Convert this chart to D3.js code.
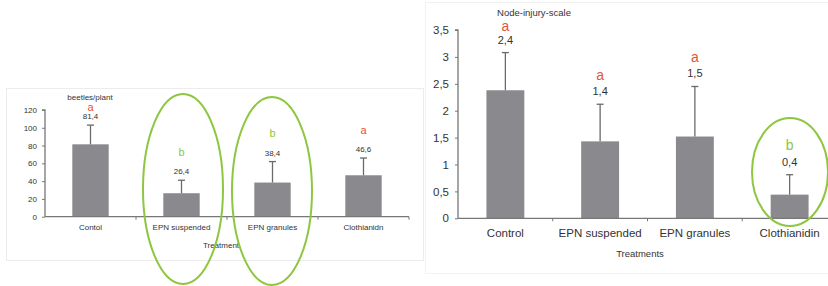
<!DOCTYPE html>
<html>
<head>
<meta charset="utf-8">
<script src="https://cdn.jsdelivr.net/npm/d3@7"></script>
<style>
  body { margin: 0; background: #fff; }
  svg { display: block; font-family: "Liberation Sans", Arial, sans-serif; }
</style>
</head>
<body>
<svg id="chart" width="828" height="286"></svg>
<script>
// left chart: beetles per plant
var beetleCats = ["Contol", "EPN suspended", "EPN granules", "Clothianidn"]
var beetleMeans = [81.4, 26.4, 38.4, 46.6]
var beetleErrTop = [103, 41, 62, 66]
var beetleLabels = ["81,4", "26,4", "38,4", "46,6"]
var beetleLetters = ["a", "b", "b", "a"]
var beetleTicks = [0, 20, 40, 60, 80, 100, 120]

// right chart: node injury scale
var injuryCats = ["Control", "EPN suspended", "EPN granules", "Clothianidin"]
var injuryMeans = [2.38, 1.43, 1.52, 0.44]
var injuryErrTop = [3.08, 2.12, 2.45, 0.81]
var injuryLabels = ["2,4", "1,4", "1,5", "0,4"]
var injuryLetters = ["a", "a", "a", "b"]
var injuryTicks = [0, 0.5, 1, 1.5, 2, 2.5, 3, 3.5]

var red = "#e2553a", green = "#8dc63f"
var barFill = "#8a8a8e", axisCol = "#777", errCol = "#6a6a6a"

var svg = d3.select("#chart")

// panel frames
svg.append("rect").attr("x", 6.5).attr("y", 88.5).attr("width", 417).attr("height", 172)
  .attr("fill", "#fff").attr("stroke", "#ececec")
svg.append("rect").attr("x", 425.5).attr("y", 2.5).attr("width", 410).attr("height", 271)
  .attr("fill", "#fff").attr("stroke", "#f2f2f2")

function drawChart(o) {
  var g = svg.append("g")
  var x = d3.scaleBand().domain(o.cats).range(o.xRange)
  var y = d3.scaleLinear().domain(o.yDomain).range(o.yRange)
  var bw = x.bandwidth() * o.barFrac

  // bars
  g.selectAll("rect.bar").data(o.means).enter().append("rect")
    .attr("class", "bar")
    .attr("x", (d, i) => x(o.cats[i]) + (x.bandwidth() - bw) / 2)
    .attr("y", d => y(d))
    .attr("width", bw)
    .attr("height", d => y(0) - y(d))
    .attr("fill", barFill)

  // error bars + labels
  o.errTop.forEach((e, i) => {
    var cx = x(o.cats[i]) + x.bandwidth() / 2
    g.append("line").attr("x1", cx).attr("x2", cx)
      .attr("y1", y(o.means[i])).attr("y2", y(e))
      .attr("stroke", errCol).attr("stroke-width", 1.3)
    g.append("line").attr("x1", cx - o.cap).attr("x2", cx + o.cap)
      .attr("y1", y(e)).attr("y2", y(e))
      .attr("stroke", errCol).attr("stroke-width", 1.3)

    var ly = y(e) - o.labelGap
    g.append("text").attr("x", cx).attr("y", ly)
      .attr("text-anchor", "middle").attr("dominant-baseline", "central")
      .attr("font-size", o.labelSize).attr("fill", "#333")
      .text(o.labels[i])
    var lety = Math.max(ly - o.letterGap, o.letterMin)
    g.append("text").attr("x", cx).attr("y", lety)
      .attr("text-anchor", "middle").attr("dominant-baseline", "central")
      .attr("font-size", o.letterSize)
      .attr("fill", o.letters[i] == "a" ? red : green)
      .text(o.letters[i])
  })

  // y axis
  var ya = g.append("g").attr("transform", `translate(${o.xRange[0]},0)`)
    .call(d3.axisLeft(y).tickValues(o.ticks).tickSize(3).tickPadding(o.tickPad)
      .tickFormat(d => String(d).replace(".", ",")))
  ya.select(".domain").attr("stroke", axisCol).attr("stroke-width", 1.3)
    .attr("d", `M-3,${o.yRange[1]}H0V${o.yRange[0]}`)
  ya.selectAll(".tick line").attr("stroke", axisCol)
  ya.selectAll(".tick text").attr("font-size", o.tickSize).attr("fill", "#333")
    .attr("font-family", "Liberation Sans, Arial, sans-serif")

  // x axis with ticks at category boundaries
  var xa = g.append("g").attr("transform", `translate(0,${y(0)})`)
  xa.append("line").attr("x1", o.xRange[0]).attr("x2", o.xRange[1])
    .attr("stroke", axisCol).attr("stroke-width", 1.3)
  o.cats.forEach((c, i) => {
    var bx = x(c) + x.bandwidth()
    xa.append("line").attr("x1", bx).attr("x2", bx).attr("y1", 0).attr("y2", 3)
      .attr("stroke", axisCol)
    xa.append("text").attr("x", x(c) + x.bandwidth() / 2).attr("y", o.catDy)
      .attr("text-anchor", "middle").attr("dominant-baseline", "central")
      .attr("font-size", o.catSize).attr("fill", "#333")
      .text(c)
  })

  // titles
  g.append("text").attr("x", o.yTitle[0]).attr("y", o.yTitle[1])
    .attr("text-anchor", "middle").attr("dominant-baseline", "central")
    .attr("font-size", o.titleSize).attr("fill", "#333").text(o.yLabel)
  g.append("text").attr("x", o.xTitle[0]).attr("y", o.xTitle[1])
    .attr("text-anchor", "middle").attr("dominant-baseline", "central")
    .attr("font-size", o.titleSize).attr("fill", "#333").text(o.xLabel)
}

drawChart({
  cats: beetleCats, means: beetleMeans, errTop: beetleErrTop,
  labels: beetleLabels, letters: beetleLetters, ticks: beetleTicks,
  xRange: [45, 409], yDomain: [0, 120], yRange: [216.7, 110],
  barFrac: 0.4, cap: 3.5, labelGap: 8.5, letterGap: 20, letterMin: 107,
  labelSize: 8, letterSize: 11, tickSize: 8, tickPad: 5, catSize: 8, catDy: 10.5,
  titleSize: 8, yLabel: "beetles/plant", yTitle: [90, 97],
  xLabel: "Treatment", xTitle: [221, 245]
})

drawChart({
  cats: injuryCats, means: injuryMeans, errTop: injuryErrTop,
  labels: injuryLabels, letters: injuryLetters, ticks: injuryTicks,
  xRange: [458, 837], yDomain: [0, 3.5], yRange: [218.3, 30],
  barFrac: 0.4, cap: 3.5, labelGap: 13, letterGap: 16.5, letterMin: 26,
  labelSize: 11, letterSize: 14, tickSize: 11.5, tickPad: 6, catSize: 11.5, catDy: 15,
  titleSize: 9.5, yLabel: "Node-injury-scale", yTitle: [534, 12],
  xLabel: "Treatments", xTitle: [640, 253]
})

// green circles around significant groups
var circled = [
  { cx: 183, cy: 189, rx: 40, ry: 95 },
  { cx: 272, cy: 191, rx: 40, ry: 94 },
  { cx: 790, cy: 172, rx: 38, ry: 54 }
]
svg.selectAll("ellipse").data(circled).enter().append("ellipse")
  .attr("cx", d => d.cx).attr("cy", d => d.cy)
  .attr("rx", d => d.rx).attr("ry", d => d.ry)
  .attr("fill", "none").attr("stroke", green).attr("stroke-width", 2)
</script>
</body>
</html>
